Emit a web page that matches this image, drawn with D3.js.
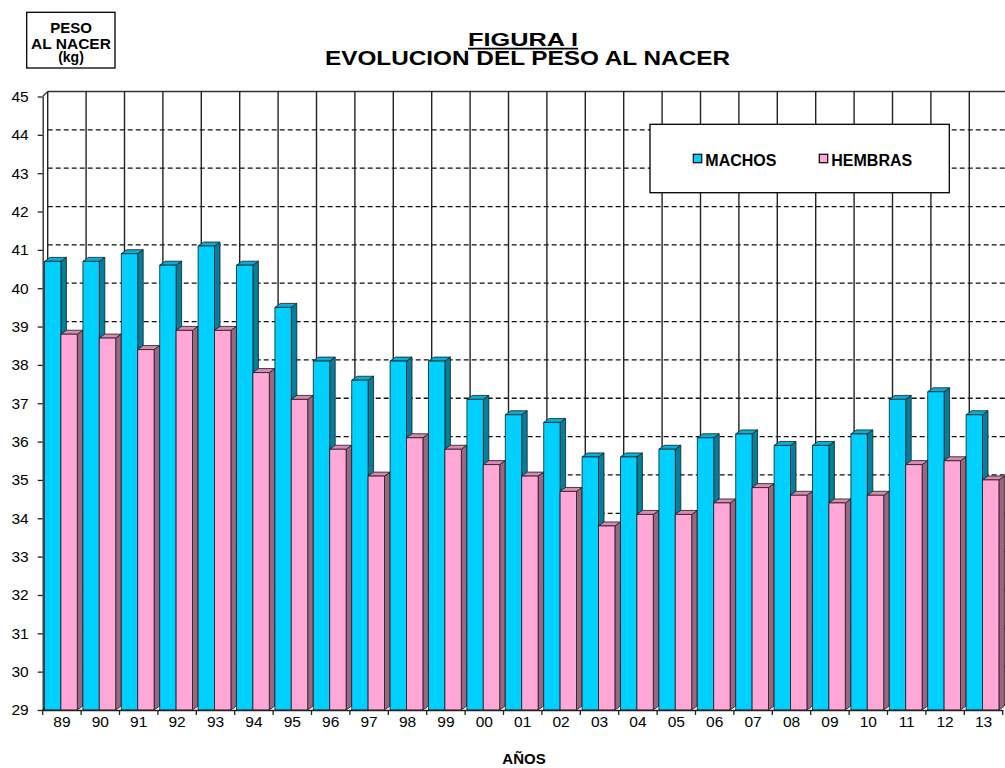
<!DOCTYPE html>
<html><head><meta charset="utf-8">
<script src="https://cdn.jsdelivr.net/npm/d3@7"></script>
<style>
body{margin:0;background:#fff}
svg{display:block;font-family:"Liberation Sans",Arial,sans-serif}
</style>
</head><body>
<svg id="c" width="1005" height="768"></svg>
<script>
const years = ["89","90","91","92","93","94","95","96","97","98","99","00","01","02","03","04","05","06","07","08","09","10","11","12","13"];
const machos = [40.7,40.7,40.9,40.6,41.1,40.6,39.5,38.1,37.6,38.1,38.1,37.1,36.7,36.5,35.6,35.6,35.8,36.1,36.2,35.9,35.9,36.2,37.1,37.3,36.7];
const hembras = [38.8,38.7,38.4,38.9,38.9,37.8,37.1,35.8,35.1,36.1,35.8,35.4,35.1,34.7,33.8,34.1,34.1,34.4,34.8,34.6,34.4,34.6,35.4,35.5,35.0];
const yTickValues = [29,30,31,32,33,34,35,36,37,38,39,40,41,42,43,44,45];
const seriesNames = ["MACHOS","HEMBRAS"];
const titleLines = ["FIGURA I","EVOLUCION DEL PESO AL NACER"];
const yTitleLines = ["PESO","AL NACER","(kg)"];
const xTitle = "AÑOS";

const W = 1005, H = 768;
const svg = d3.select("#c");

const x = d3.scaleBand().domain(years).range([42.7, 1002.7]).padding(0);
const y = d3.scaleLinear().domain([29, 45]).range([710, 96.5]);

const wallDx = 5, wallDy = -5;
const barDx = 5.5, barDy = -4;
const barOff = 1.8, barW = 16.4;

const colors = [
  {front:"#00D0FF", side:"#00809E", top:"#00B2DA"},
  {front:"#FFA8D8", side:"#9C6682", top:"#D889B4"}
];

// ---- back wall ----
const wall = svg.append("g");
const x0 = x.range()[0], x1 = x.range()[1];
wall.selectAll("line.h").data(yTickValues.filter(v => v > 29 && v < 45)).join("line")
  .attr("class","h")
  .attr("x1", x0 + wallDx).attr("x2", W)
  .attr("y1", d => y(d) + wallDy).attr("y2", d => y(d) + wallDy)
  .attr("stroke", "#111").attr("stroke-width", 1.3).attr("stroke-dasharray", "5,3");
wall.append("line")
  .attr("x1", x0 + wallDx).attr("x2", W)
  .attr("y1", y(45) + wallDy).attr("y2", y(45) + wallDy)
  .attr("stroke", "#333").attr("stroke-width", 1.6);
wall.selectAll("line.v").data(years).join("line")
  .attr("class","v")
  .attr("x1", d => x(d) + wallDx).attr("x2", d => x(d) + wallDx)
  .attr("y1", y(45) + wallDy).attr("y2", y(29) + wallDy)
  .attr("stroke", "#222").attr("stroke-width", 1.4);
wall.append("line").attr("x1", x0 + wallDx).attr("x2", W)
  .attr("y1", y(29) + wallDy).attr("y2", y(29) + wallDy)
  .attr("stroke", "#333").attr("stroke-width", 1);
wall.append("line").attr("x1", x0).attr("y1", y(45)).attr("x2", x0 + wallDx).attr("y2", y(45) + wallDy)
  .attr("stroke", "#333").attr("stroke-width", 1.2);
wall.append("line").attr("x1", x0).attr("y1", y(29)).attr("x2", x0 + wallDx).attr("y2", y(29) + wallDy)
  .attr("stroke", "#333").attr("stroke-width", 1.2);

// ---- bars ----
const rows = years.map((yr, i) => ({yr, vals: [machos[i], hembras[i]]}));
const groups = svg.append("g").selectAll("g").data(rows).join("g");
groups.each(function(d) {
  const g = d3.select(this);
  d.vals.forEach((v, s) => {
    const bx = x(d.yr) + barOff + s * barW;
    const yt = y(v), yb = y(29);
    const c = colors[s];
    const bg = g.append("g").attr("stroke", "#1a1a1a").attr("stroke-width", 0.8).attr("stroke-linejoin", "round");
    bg.append("polygon")
      .attr("points", [[bx + barW, yt], [bx + barW + barDx, yt + barDy], [bx + barW + barDx, yb + barDy], [bx + barW, yb]].join(" "))
      .attr("fill", c.side);
    bg.append("polygon")
      .attr("points", [[bx, yt], [bx + barDx, yt + barDy], [bx + barW + barDx, yt + barDy], [bx + barW, yt]].join(" "))
      .attr("fill", c.top);
    bg.append("rect").attr("x", bx).attr("y", yt).attr("width", barW).attr("height", yb - yt)
      .attr("fill", c.front);
  });
});

// ---- axes ----
const yAxis = d3.axisLeft(y).tickValues(yTickValues).tickFormat(d3.format("d"))
  .tickSize(5).tickSizeOuter(0).tickPadding(9);
const gy = svg.append("g").attr("transform", `translate(${x0},0)`).call(yAxis);
gy.selectAll("text").attr("font-size", 15.5).attr("fill", "#000").attr("font-family", "Liberation Sans, Arial, sans-serif");
gy.selectAll("line, path").attr("stroke", "#222").attr("stroke-width", 1.3);

const xAxis = d3.axisBottom(x).tickSize(0).tickSizeOuter(0).tickPadding(6);
const gx = svg.append("g").attr("transform", `translate(0,${y(29)})`).call(xAxis);
gx.selectAll("text").attr("font-size", 15.5).attr("fill", "#000").attr("font-family", "Liberation Sans, Arial, sans-serif");
gx.select("path").attr("stroke", "#222").attr("stroke-width", 1.3);
gx.selectAll("line.bt").data(years.map(d => x(d)).concat([x1])).join("line")
  .attr("class","bt")
  .attr("x1", d => d).attr("x2", d => d).attr("y1", 0).attr("y2", 5)
  .attr("stroke", "#222").attr("stroke-width", 1.3);

// ---- titles ----
svg.append("text").attr("x", 523).attr("y", 46).attr("text-anchor", "middle")
  .attr("font-size", 18).attr("font-weight", "bold").attr("textLength", 110).attr("lengthAdjust", "spacingAndGlyphs")
  .text(titleLines[0]);
svg.append("line").attr("x1", 468).attr("x2", 578).attr("y1", 48.6).attr("y2", 48.6)
  .attr("stroke", "#000").attr("stroke-width", 1.8);
svg.append("text").attr("x", 527.5).attr("y", 65).attr("text-anchor", "middle")
  .attr("font-size", 20).attr("font-weight", "bold").attr("textLength", 405).attr("lengthAdjust", "spacingAndGlyphs")
  .text(titleLines[1]);

// y title box
svg.append("rect").attr("x", 26.7).attr("y", 12.3).attr("width", 88.3).attr("height", 55.7)
  .attr("fill", "#fff").attr("stroke", "#000").attr("stroke-width", 1.3);
const yBase = [32.7, 48.6, 61.5], ySize = [15, 15.5, 14];
yTitleLines.forEach((t, i) => {
  svg.append("text").attr("x", 71).attr("y", yBase[i]).attr("text-anchor", "middle")
    .attr("font-size", ySize[i]).attr("font-weight", "bold").text(t);
});

// x title
svg.append("text").attr("x", 524).attr("y", 764).attr("text-anchor", "middle")
  .attr("font-size", 15).attr("font-weight", "bold").text(xTitle);

// ---- legend ----
const lg = svg.append("g");
lg.append("rect").attr("x", 650).attr("y", 124.3).attr("width", 299.3).attr("height", 68.4)
  .attr("fill", "#fff").attr("stroke", "#000").attr("stroke-width", 1.3);
const legX = [693.3, 819.3];
seriesNames.forEach((n, i) => {
  lg.append("rect").attr("x", legX[i]).attr("y", 154.3).attr("width", 8.4).attr("height", 8.4)
    .attr("fill", colors[i].front).attr("stroke", "#111").attr("stroke-width", 1.3);
  lg.append("text").attr("x", legX[i] + 12).attr("y", 166).attr("font-size", 16)
    .attr("font-weight", "bold").text(n);
});
</script>
</body></html>
